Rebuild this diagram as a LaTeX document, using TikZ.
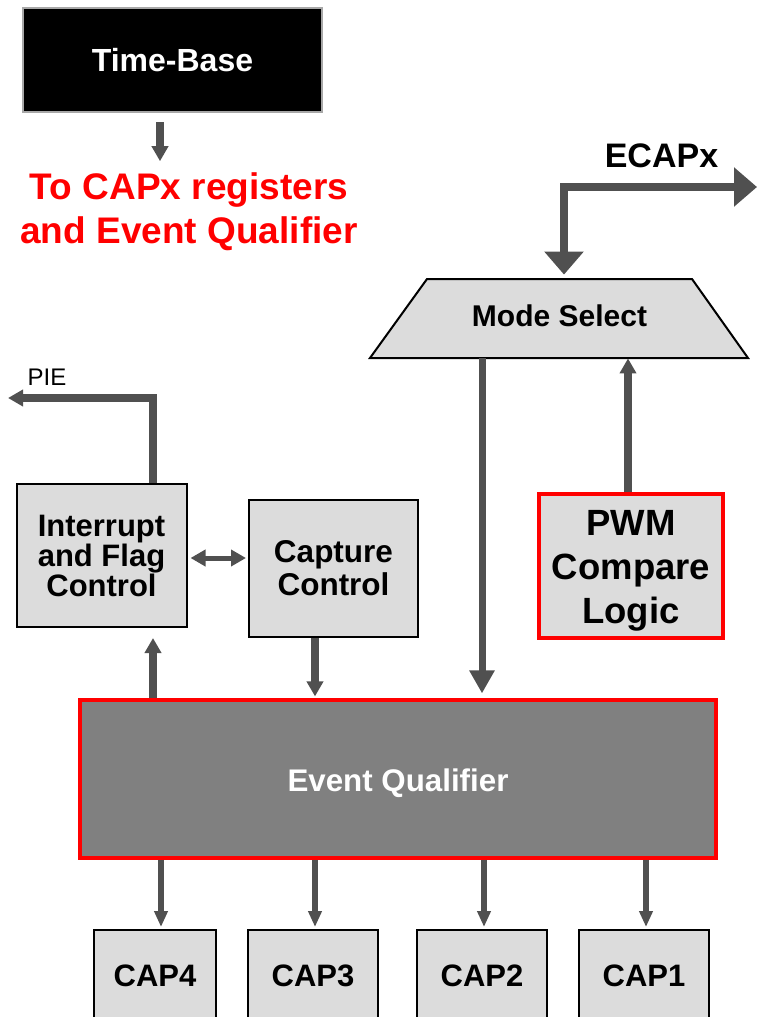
\documentclass[tikz,border=0pt]{standalone}
\usepackage{fontspec}
\setmainfont{Liberation Sans}
\usetikzlibrary{arrows.meta}

\definecolor{boxgray}{HTML}{DCDCDC}
\definecolor{qualgray}{HTML}{808080}
\definecolor{arrowgray}{HTML}{505050}
\definecolor{tbframe}{HTML}{A8A8A8}

\def\pxUnit{0.5pt}
\def\capTop{929}
\def\capHeight{46pt}
\newcommand{\shiftText}[2]{\raisebox{#1}[\height][\depth]{#2}}

\tikzset{
  box/.style={draw=black, line width=1pt, fill=boxgray, inner sep=0pt, align=center,
    font=\bfseries\fontsize{15.5}{15}\selectfont},
  redbox/.style={box, draw=red, line width=1.6pt},
  tbbox/.style={draw=tbframe, line width=1.2pt, fill=black, text=white, inner sep=0pt,
    minimum width=149.5pt, minimum height=52pt, font=\bfseries\fontsize{16}{19}\selectfont},
  msshape/.style={draw=black, line width=1pt, fill=boxgray},
  mstext/.style={inner sep=0pt, minimum width=132.5pt, minimum height=39.5pt,
    font=\bfseries\fontsize{15}{18}\selectfont},
  qualbox/.style={draw=red, line width=1.6pt, fill=qualgray, text=white, inner sep=0pt,
    minimum width=318pt, minimum height=79pt, font=\bfseries\fontsize{15.65}{18}\selectfont},
  capbox/.style={box, minimum height=\capHeight, anchor=north},
  note/.style={text=red, align=center, inner sep=0pt, font=\bfseries\fontsize{18.5}{22}\selectfont},
  conn/.style={draw=arrowgray, line width=4pt, -{Triangle[width=8pt,length=7.5pt]}},
  capconn/.style={draw=arrowgray, line width=3pt, -{Triangle[width=6.5pt,length=8pt]}},
  midconn/.style={draw=arrowgray, line width=3.5pt, -{Triangle[width=12pt,length=11.5pt]}},
  dblconn/.style={draw=arrowgray, line width=2.5pt,
    {Triangle[width=8pt,length=7.5pt]}-{Triangle[width=8pt,length=7.5pt]}},
  bigconn/.style={draw=arrowgray, line width=4pt,
    {Triangle[width=19pt,length=11.5pt]}-{Triangle[width=19pt,length=11.5pt]}}
}

\begin{document}
\begin{tikzpicture}[x=\pxUnit, y=-\pxUnit]
  \useasboundingbox (0,0) rectangle (757,1017);
  \clip (0,0) rectangle (757,1017);

  % time base
  \node[tbbox] (tb) at (172.5,60) {Time-Base};
  \node[note] (tbnote) at (189,212) {To CAPx registers\\and Event Qualifier};
  \draw[conn, shorten <=4.5pt] ([xshift=-6.25pt]tb.south) -- ++(0,48);

  % mode select and ECAPx pin
  \draw[msshape] (427,279) -- (692,279) -- (748,358) -- (370,358) -- cycle;
  \node[mstext] (ms) at (559.5,318.5) {\shiftText{1.5pt}{Mode Select}};
  \node[inner sep=0pt, font=\bfseries\fontsize{17}{20}\selectfont] (ecaptext) at (661.5,156) {ECAPx};
  \coordinate (ecapout) at (757,187);
  \draw[bigconn, shorten >=2pt] (ecapout) -| ([xshift=2.25pt]ms.north);

  % blocks
  \node[box, minimum width=85pt, minimum height=71.5pt] (ifc) at (101.5,555.5) {Interrupt\\and Flag\\Control};
  \node[box, minimum width=84.5pt, minimum height=68.5pt,
    font=\bfseries\fontsize{15.75}{16.5}\selectfont] (cc) at (333.5,568.5) {Capture\\Control};
  \node[redbox, minimum width=92pt, minimum height=72pt,
    font=\bfseries\fontsize{18.25}{22}\selectfont] (pwm) at (631,566)
    {\shiftText{-2.5pt}{\parbox{80pt}{\centering PWM\\Compare\\Logic}}};
  \node[qualbox] (eq) at (398,779) {\shiftText{-2pt}{Event Qualifier}};

  % PIE output
  \coordinate (pie) at (8,398);
  \node[inner sep=0pt, font=\fontsize{12}{14}\selectfont] (pietext) at (47,377) {PIE};
  \draw[conn] ([xshift=25.75pt]ifc.north) |- (pie);

  % connections
  \draw[dblconn, shorten <=1.5pt, shorten >=1pt] ([yshift=-1.25pt]ifc.east) -- ([yshift=-1.25pt]ifc.east -| cc.west);
  \draw[conn, shorten >=5pt] ([xshift=25.75pt]ifc.south |- eq.north) -- ([xshift=25.75pt]ifc.south);
  \draw[conn, shorten >=1pt] ([xshift=-9.25pt]cc.south) -- ([xshift=-9.25pt]cc.south |- eq.north);
  \draw[midconn, shorten >=2.5pt] ([xshift=-38.75pt]ms.south) -- ([xshift=-38.75pt]ms.south |- eq.north);
  \draw[conn] ([xshift=-1.5pt]pwm.north) -- ([xshift=-1.5pt]pwm.north |- ms.south);

  % capture registers
  \foreach \n/\x/\w/\dx in {4/155/61/3,3/313/65/1,2/482/65/1,1/644/65/1} {
    \node[capbox, minimum width=\w pt] (cap\n) at (\x,\capTop) {CAP\n};
    \draw[capconn, shorten >=1pt] ([xshift=\dx pt]cap\n.north |- eq.south) -- ([xshift=\dx pt]cap\n.north);
  }
\end{tikzpicture}
\end{document}
